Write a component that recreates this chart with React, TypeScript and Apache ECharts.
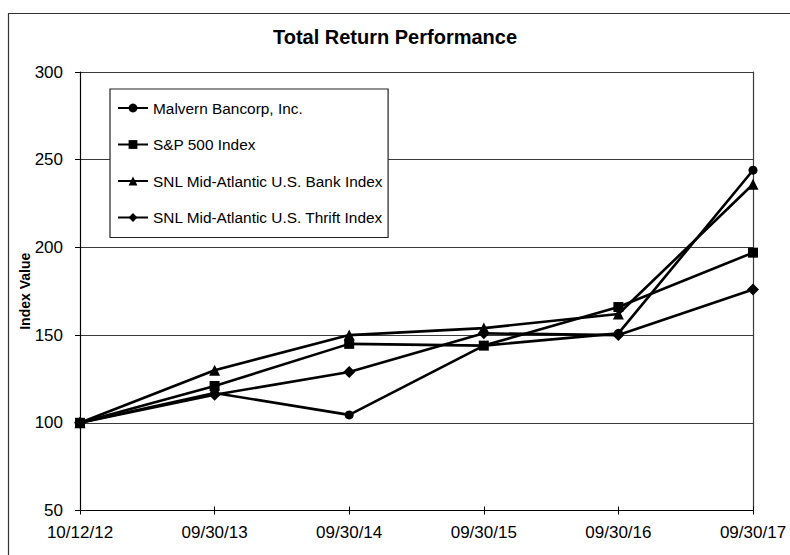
import React, { useEffect, useRef } from "react";
import * as echarts from "echarts";

const categories = ["10/12/12", "09/30/13", "09/30/14", "09/30/15", "09/30/16", "09/30/17"];
const seriesNames = [
  "Malvern Bancorp, Inc.",
  "S&P 500 Index",
  "SNL Mid-Atlantic U.S. Bank Index",
  "SNL Mid-Atlantic U.S. Thrift Index",
];
const malvern = [100, 117, 104.5, 144, 151, 244];
const sp500 = [100, 121, 145, 144, 166, 197];
const bankIndex = [100, 130, 150, 154, 162, 236];
const thriftIndex = [100, 116, 129, 151, 150, 176];
const yTicks = { min: 50, max: 300, interval: 50 };

export default function App() {
  const ref = useRef<HTMLDivElement>(null);
  useEffect(() => {
    document.body.style.margin = "0";
    if (!ref.current) return;
    const chart = echarts.init(ref.current, undefined, { renderer: "svg" });
    const font = "'Liberation Sans', Arial, Helvetica, sans-serif";
    const mk = (name: string, data: number[], symbol: string, size: number) => ({
      name,
      type: "line",
      data,
      symbol,
      symbolSize: size,
      showSymbol: true,
      lineStyle: { color: "#000", width: 2.6 },
      itemStyle: { color: "#000", borderWidth: 0 },
      emphasis: { disabled: true },
    });
    chart.setOption({
      animation: false,
      backgroundColor: "#fff",
      textStyle: { fontFamily: font },
      title: {
        text: "Total Return Performance",
        left: "center",
        top: 22,
        textStyle: { fontSize: 20, fontWeight: "bold", color: "#000", fontFamily: font },
      },
      legend: {
        orient: "vertical",
        left: 110,
        top: 89,
        padding: [11, 5, 12, 7],
        itemWidth: 30,
        itemHeight: 11,
        itemGap: 20.5,
        itemTextGap: 6,
        backgroundColor: "#fff",
        borderColor: "#222",
        borderWidth: 1.2,
        data: seriesNames,
        textStyle: { fontSize: 15.4, color: "#000", fontFamily: font, lineHeight: 16 },
      },
      graphic: [
        {
          type: "rect",
          shape: { x: 8.5, y: 13.5, width: 900, height: 900 },
          style: { fill: "none", stroke: "#333", lineWidth: 1.2 },
          silent: true,
        },
      ],
      grid: { left: 80, right: 37, top: 72, bottom: 44.5 },
      xAxis: [
        {
          type: "category",
          data: categories,
          boundaryGap: false,
          axisLine: { lineStyle: { color: "#000", width: 1.2 } },
          axisTick: { show: true, length: 4, lineStyle: { color: "#000" } },
          axisLabel: { fontSize: 17, color: "#000", margin: 13, fontFamily: font },
          splitLine: { show: false },
        },
        {
          type: "category",
          data: categories,
          boundaryGap: false,
          position: "bottom",
          axisLine: { show: false },
          axisTick: { show: true, inside: true, length: 4, lineStyle: { color: "#000" } },
          axisLabel: { show: false },
          splitLine: { show: false },
        },
      ],
      yAxis: [
        {
          type: "value",
          min: yTicks.min,
          max: yTicks.max,
          interval: yTicks.interval,
          name: "Index Value",
          nameLocation: "middle",
          nameGap: 48,
          nameMoveOverlap: false,
          nameTextStyle: { fontSize: 14, fontWeight: "bold", color: "#000", fontFamily: font },
          axisLine: { show: true, lineStyle: { color: "#000", width: 1.2 } },
          axisTick: { show: true, length: 5, lineStyle: { color: "#000" } },
          axisLabel: { fontSize: 17, color: "#000", margin: 17, fontFamily: font },
          splitLine: { show: true, lineStyle: { color: "#3a3a3a", width: 1.2 } },
        },
        {
          type: "value",
          position: "right",
          min: yTicks.min,
          max: yTicks.max,
          interval: yTicks.interval,
          axisLine: { show: true, lineStyle: { color: "#3a3a3a", width: 1.2 } },
          axisTick: { show: false },
          axisLabel: { show: false },
          splitLine: { show: false },
        },
      ],
      series: [
        mk(seriesNames[0], malvern, "circle", 9),
        mk(seriesNames[1], sp500, "rect", 10),
        mk(seriesNames[2], bankIndex, "triangle", 11),
        mk(seriesNames[3], thriftIndex, "diamond", 12),
      ],
    });
    return () => chart.dispose();
  }, []);
  return <div ref={ref} style={{ width: 790, height: 555 }} />;
}
